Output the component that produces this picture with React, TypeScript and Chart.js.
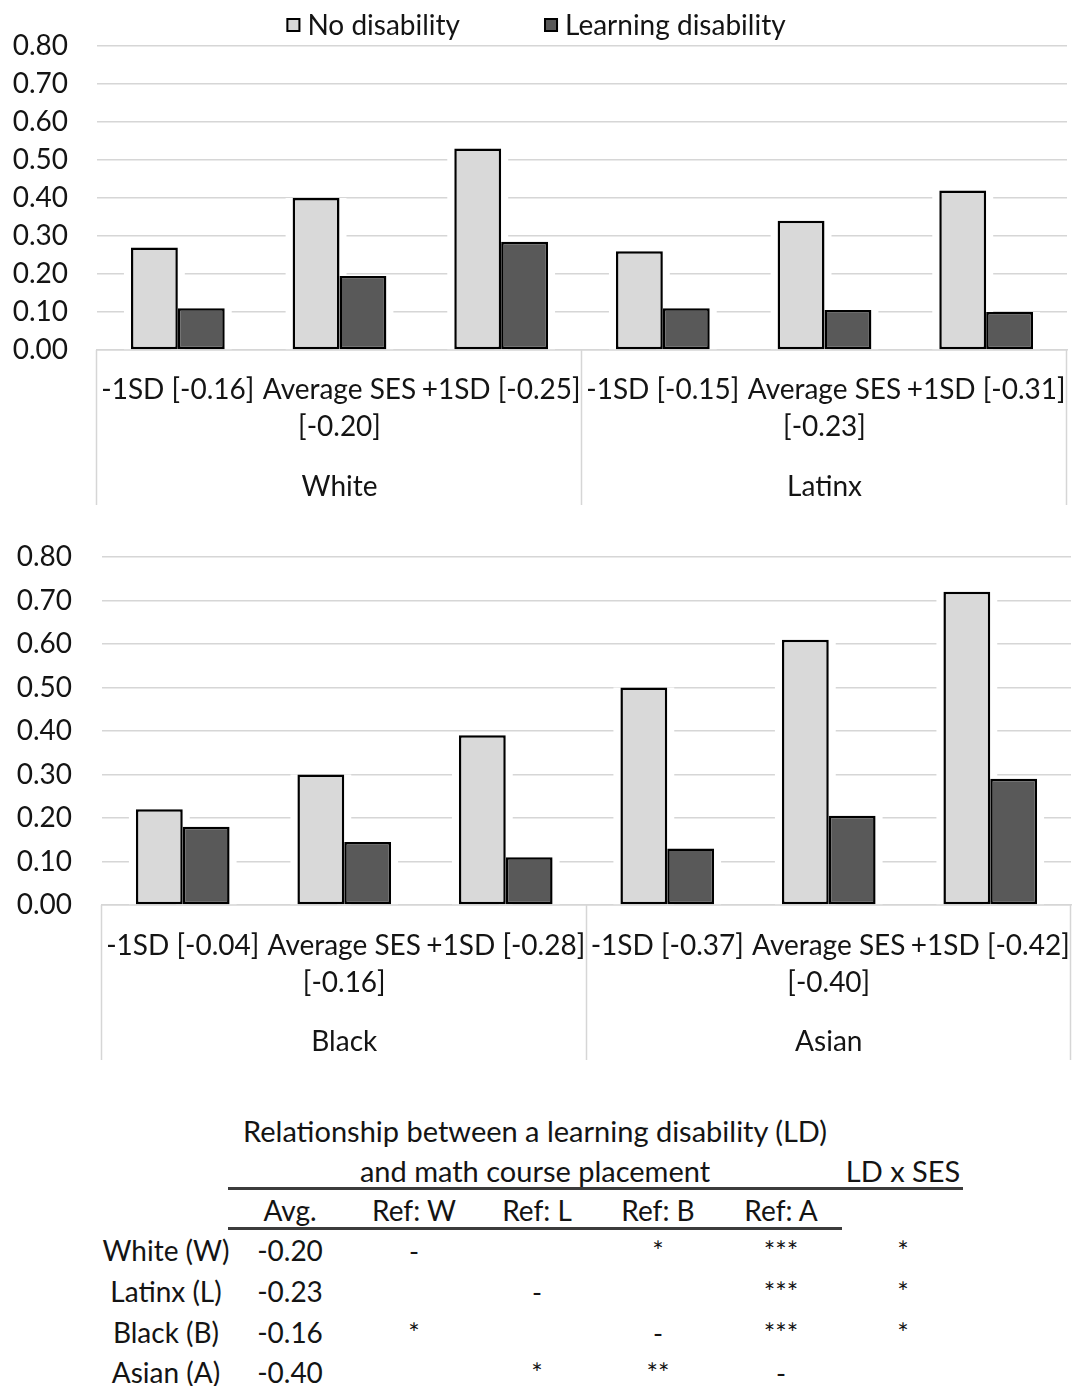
import React, { useEffect, useRef } from "react";
import { Chart, registerables } from "chart.js";

Chart.register(...registerables);

// ---------- data ----------
const seriesNames = ["No disability", "Learning disability"];
const seriesFill = ["#d9d9d9", "#595959"];

const topCategories: (string | string[])[] = [
  "-1SD [-0.16]",
  ["Average SES", "[-0.20]"],
  "+1SD [-0.25]",
  "-1SD [-0.15]",
  ["Average SES", "[-0.23]"],
  "+1SD [-0.31]",
];
const topGroups = ["White", "Latinx"];
const topNoDisability = [0.27, 0.4, 0.53, 0.26, 0.34, 0.42];
const topLearningDisability = [0.11, 0.195, 0.285, 0.11, 0.105, 0.1];

const bottomCategories: (string | string[])[] = [
  "-1SD [-0.04]",
  ["Average SES", "[-0.16]"],
  "+1SD [-0.28]",
  "-1SD [-0.37]",
  ["Average SES", "[-0.40]"],
  "+1SD [-0.42]",
];
const bottomGroups = ["Black", "Asian"];
const bottomNoDisability = [0.22, 0.3, 0.39, 0.5, 0.61, 0.72];
const bottomLearningDisability = [0.18, 0.145, 0.11, 0.13, 0.205, 0.29];

const yMin = 0;
const yMax = 0.8;
const yStep = 0.1;

const tableTitle1 = "Relationship between a learning disability (LD)";
const tableTitle2 = "and math course placement";
const tableTitle3 = "LD x SES";
const tableHeaders = ["Avg.", "Ref: W", "Ref: L", "Ref: B", "Ref: A"];
const tableRows = ["White (W)", "Latinx (L)", "Black (B)", "Asian (A)"];
const tableAvg = ["-0.20", "-0.23", "-0.16", "-0.40"];
const tableRefW = ["-", "", "*", ""];
const tableRefL = ["", "-", "", "*"];
const tableRefB = ["*", "", "-", "**"];
const tableRefA = ["***", "***", "***", "-"];
const tableLdSes = ["*", "*", "*", ""];

const FONT = "Lato, 'Open Sans', sans-serif";
const TEXT = "#141414";
const GRID = "#d6d6d6";

// ---------- plugins ----------
const haloPlugin = {
  id: "halo",
  beforeDatasetsDraw(chart: any) {
    const ctx = chart.ctx;
    const area = chart.chartArea;
    ctx.save();
    ctx.beginPath();
    ctx.rect(area.left, area.top, area.right - area.left, area.bottom - area.top);
    ctx.clip();
    ctx.fillStyle = "#ffffff";
    chart.data.datasets.forEach((_: any, di: number) => {
      const meta = chart.getDatasetMeta(di);
      meta.data.forEach((el: any) => {
        const w = el.width;
        ctx.fillRect(el.x - w / 2 - 7, el.y, w + 14, el.base - el.y);
      });
    });
    ctx.restore();
  },
};

const groupAxisPlugin = {
  id: "groupAxis",
  afterDraw(chart: any, _args: any, opts: any) {
    const ctx = chart.ctx;
    const xs = chart.scales.x;
    const n = chart.data.labels.length;
    const groups: string[] = opts.groups || [];
    const per = n / groups.length;
    const catW = (xs.right - xs.left) / n;
    const bottom = chart.chartArea.bottom;
    ctx.save();
    ctx.strokeStyle = GRID;
    ctx.lineWidth = 1.5;
    for (let g = 0; g <= groups.length; g++) {
      let x: number;
      if (g * per >= n) x = xs.getPixelForValue(n - 1) + catW / 2;
      else x = xs.getPixelForValue(g * per) - catW / 2;
      x = Math.round(x) - 0.5;
      ctx.beginPath();
      ctx.moveTo(x, bottom);
      ctx.lineTo(x, bottom + opts.sepLength);
      ctx.stroke();
    }
    ctx.fillStyle = TEXT;
    ctx.font = `${opts.fontSize}px ${FONT}`;
    ctx.textAlign = "center";
    ctx.textBaseline = "middle";
    groups.forEach((label, g) => {
      const a = xs.getPixelForValue(g * per) - catW / 2;
      const b = xs.getPixelForValue(g * per + per - 1) + catW / 2;
      ctx.fillText(label, (a + b) / 2, bottom + opts.labelOffset);
    });
    ctx.restore();
  },
};

const topLegendPlugin = {
  id: "topLegend",
  afterDraw(chart: any, _args: any, opts: any) {
    if (!opts || !opts.show) return;
    const ctx = chart.ctx;
    const ds = chart.data.datasets;
    ctx.save();
    ctx.font = `${opts.fontSize}px ${FONT}`;
    ctx.textBaseline = "middle";
    ctx.textAlign = "left";
    const box = 14;
    const gap = 7;
    const spacing = 84;
    const widths = ds.map((d: any) => box + gap + ctx.measureText(d.label).width);
    const total = widths.reduce((a: number, b: number) => a + b, 0) + spacing * (ds.length - 1);
    let x = opts.centerX - total / 2;
    const y = opts.y;
    ds.forEach((d: any, i: number) => {
      ctx.fillStyle = d.backgroundColor;
      ctx.fillRect(x, y - box / 2, box, box);
      ctx.strokeStyle = "#000";
      ctx.lineWidth = 2;
      ctx.strokeRect(x + 1, y - box / 2 + 1, box - 2, box - 2);
      ctx.fillStyle = TEXT;
      ctx.fillText(d.label, x + box + gap, y + 1);
      x += widths[i] + spacing;
    });
    ctx.restore();
  },
};

// ---------- chart panel ----------
type PanelProps = {
  categories: (string | string[])[];
  groups: string[];
  noDis: number[];
  ld: number[];
  width: number;
  height: number;
  top: number;
  plotLeft: number;
  plotRight: number;
  plotTop: number;
  plotBottom: number;
  yPad: number;
  firstLineOffset: number;
  groupOffset: number;
  sepLength: number;
  legend: boolean;
};

function ChartPanel(p: PanelProps) {
  const ref = useRef<HTMLCanvasElement | null>(null);
  useEffect(() => {
    if (!ref.current) return;
    const lineH = 37;
    const xHeight = p.height - p.plotBottom;
    const chart = new Chart(ref.current, {
      type: "bar",
      data: {
        labels: p.categories,
        datasets: [
          {
            label: seriesNames[0],
            data: p.noDis,
            backgroundColor: seriesFill[0],
            borderColor: "#000000",
            borderWidth: 2.5,
            borderSkipped: false,
            categoryPercentage: 0.58,
            barPercentage: 1,
          },
          {
            label: seriesNames[1],
            data: p.ld,
            backgroundColor: seriesFill[1],
            borderColor: "#000000",
            borderWidth: 2.5,
            borderSkipped: false,
            categoryPercentage: 0.58,
            barPercentage: 1,
          },
        ],
      },
      options: {
        animation: false,
        responsive: false,
        maintainAspectRatio: false,
        layout: {
          autoPadding: false,
          padding: { left: 0, right: p.width - p.plotRight, top: p.plotTop, bottom: 0 },
        },
        plugins: {
          legend: { display: false },
          tooltip: { enabled: false },
          groupAxis: { groups: p.groups, labelOffset: p.groupOffset, sepLength: p.sepLength, fontSize: 28 },
          topLegend: { show: p.legend, y: 25 - p.top, centerX: 536, fontSize: 28 },
        } as any,
        scales: {
          x: {
            grid: { display: false, drawTicks: false },
            border: { display: true, color: GRID, width: 1.5 },
            ticks: {
              autoSkip: false,
              maxRotation: 0,
              minRotation: 0,
              color: TEXT,
              padding: p.firstLineOffset - lineH / 2,
              font: { family: FONT, size: 28, lineHeight: `${lineH}px` },
            },
            afterFit: (s: any) => {
              s.height = xHeight;
              s.paddingLeft = 0;
              s.paddingRight = 0;
            },
          },
          y: {
            min: yMin,
            max: yMax,
            grid: { color: GRID, lineWidth: 1.5, drawTicks: false },
            border: { display: false },
            ticks: {
              stepSize: yStep,
              color: TEXT,
              padding: p.yPad,
              font: { family: FONT, size: 28 },
              callback: (v: any) => Number(v).toFixed(2),
            },
            afterFit: (s: any) => {
              s.width = p.plotLeft;
              s.paddingTop = 0;
              s.paddingBottom = 0;
            },
          },
        },
      },
      plugins: [haloPlugin, groupAxisPlugin, topLegendPlugin],
    });
    return () => chart.destroy();
  }, []);
  return (
    <div style={{ position: "absolute", left: 0, top: p.top, width: p.width, height: p.height }}>
      <canvas ref={ref} width={p.width} height={p.height} style={{ width: p.width, height: p.height, display: "block" }} />
    </div>
  );
}

// ---------- table ----------
function Cell({ x, y, text, size = 28 }: { x: number; y: number; text: string; size?: number }) {
  return (
    <div
      style={{
        position: "absolute",
        left: x,
        top: y,
        transform: "translate(-50%, -50%)",
        fontFamily: FONT,
        fontSize: size,
        color: TEXT,
        whiteSpace: "nowrap",
        lineHeight: 1,
        textAlign: "center",
      }}
    >
      {text}
    </div>
  );
}

function Table() {
  const colX = [290, 414, 537, 658, 781];
  const sesX = 903;
  const rowY = [1250, 1291, 1332, 1372];
  const starCols = [tableRefW, tableRefL, tableRefB, tableRefA];
  return (
    <div>
      <Cell x={535} y={1130} text={tableTitle1} size={29} />
      <Cell x={535} y={1170} text={tableTitle2} size={29} />
      <Cell x={903} y={1170} text={tableTitle3} size={29} />
      <div style={{ position: "absolute", left: 228, top: 1187, width: 735, height: 3, background: "#3c3c3c" }} />
      {tableHeaders.map((h, i) => (
        <Cell key={h} x={colX[i]} y={1210} text={h} />
      ))}
      <div style={{ position: "absolute", left: 228, top: 1227, width: 614, height: 3, background: "#3c3c3c" }} />
      {tableRows.map((r, ri) => (
        <React.Fragment key={r}>
          <Cell x={166} y={rowY[ri]} text={r} />
          <Cell x={colX[0]} y={rowY[ri]} text={tableAvg[ri]} />
          {starCols.map((col, ci) =>
            col[ri] ? <Cell key={ci} x={colX[ci + 1]} y={rowY[ri]} text={col[ri]} size={27} /> : null
          )}
          {tableLdSes[ri] ? <Cell x={sesX} y={rowY[ri]} text={tableLdSes[ri]} size={27} /> : null}
        </React.Fragment>
      ))}
    </div>
  );
}

export default function App() {
  return (
    <div style={{ position: "absolute", left: 0, top: 0, width: 1072, height: 1386, background: "#fff", overflow: "hidden" }}>
      <ChartPanel
        categories={topCategories}
        groups={topGroups}
        noDis={topNoDisability}
        ld={topLearningDisability}
        width={1072}
        height={520}
        top={0}
        plotLeft={97}
        plotRight={1067}
        plotTop={46}
        plotBottom={350}
        yPad={29}
        firstLineOffset={40}
        groupOffset={137}
        sepLength={155}
        legend={true}
      />
      <ChartPanel
        categories={bottomCategories}
        groups={bottomGroups}
        noDis={bottomNoDisability}
        ld={bottomLearningDisability}
        width={1072}
        height={560}
        top={520}
        plotLeft={102}
        plotRight={1071}
        plotTop={37}
        plotBottom={385}
        yPad={30}
        firstLineOffset={41}
        groupOffset={137}
        sepLength={155}
        legend={false}
      />
      <Table />
    </div>
  );
}
